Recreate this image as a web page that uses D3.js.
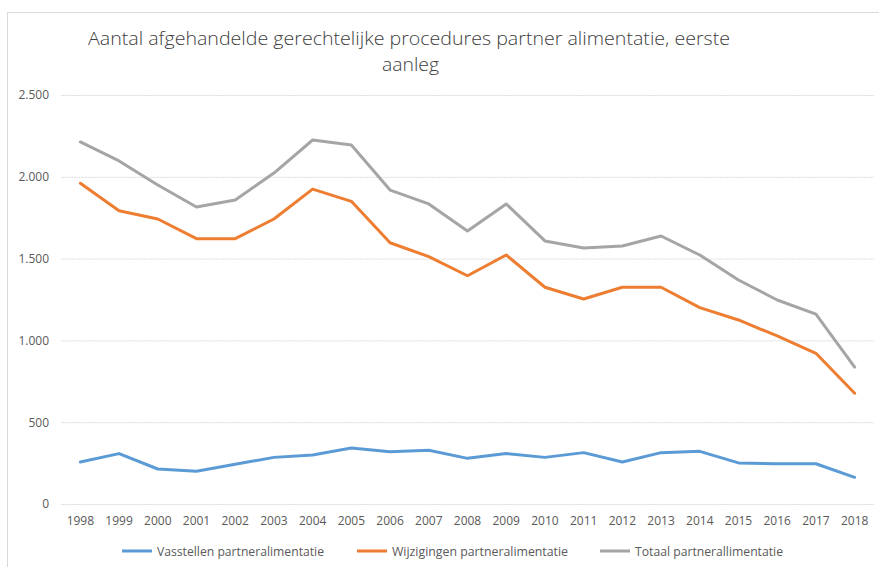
<!DOCTYPE html>
<html>
<head>
<meta charset="utf-8">
<script src="https://cdn.jsdelivr.net/npm/d3@7"></script>
<style>
  body { margin: 0; background: #fff; }
  text { font-family: "Open Sans", "DejaVu Sans", sans-serif; }
</style>
</head>
<body>
<div id="chart"></div>
<script>
// data
var years = ["1998","1999","2000","2001","2002","2003","2004","2005","2006","2007",
  "2008","2009","2010","2011","2012","2013","2014","2015","2016","2017","2018"];
var vasstellen = [257, 308, 214, 200, 243, 285, 300, 342, 320, 328,
  279, 308, 285, 314, 257, 314, 322, 251, 246, 246, 163];
var wijzigingen = [1960, 1793, 1742, 1622, 1622, 1742, 1925, 1850, 1597, 1512,
  1395, 1522, 1325, 1253, 1325, 1325, 1200, 1125, 1027, 921, 677];
var totaal = [2213, 2097, 1950, 1815, 1858, 2023, 2225, 2194, 1919, 1834,
  1669, 1834, 1608, 1565, 1577, 1638, 1522, 1369, 1247, 1161, 837];
var yTicks = [0, 500, 1000, 1500, 2000, 2500];
var seriesNames = ["Vasstellen partneralimentatie", "Wijzigingen partneralimentatie", "Totaal partnerallimentatie"];
var seriesColors = ["#5B9BD5", "#ED7D31", "#A5A5A5"];

var svgWidth = 879, svgHeight = 567;
var margin = { top: 95, right: 5, bottom: 63, left: 61 };
var width = 874 - margin.left;
var height = 504 - margin.top;

var svg = d3.select("#chart").append("svg")
  .attr("width", svgWidth)
  .attr("height", svgHeight);

// outer chart border (only top/left visible in the picture)
svg.append("rect")
  .attr("x", 7.5).attr("y", 12.5)
  .attr("width", 900).attr("height", 600)
  .attr("fill", "none")
  .attr("stroke", "#d9d9d9");

// title
var title = svg.append("g").attr("fill", "#404040").style("font-size", "19px")
  .style("font-weight", 300);
title.append("text")
  .attr("x", 88).attr("y", 45)
  .attr("textLength", 642).attr("lengthAdjust", "spacingAndGlyphs")
  .text("Aantal afgehandelde gerechtelijke procedures partner alimentatie, eerste");
title.append("text")
  .attr("x", 382).attr("y", 71)
  .attr("textLength", 57).attr("lengthAdjust", "spacingAndGlyphs")
  .text("aanleg");

var chartGroup = svg.append("g")
  .attr("transform", `translate(${margin.left}, ${margin.top})`);

var x = d3.scaleBand().domain(years).range([0, width]);
var y = d3.scaleLinear().domain([0, 2500]).range([height, 0]);

var fmt = d3.formatLocale({ decimal: ",", thousands: ".", grouping: [3], currency: ["€", ""] }).format(",");

// gridlines + y labels
var yAxis = d3.axisLeft(y).tickValues(yTicks).tickSize(-width).tickFormat(fmt).tickPadding(12);
chartGroup.append("g")
  .call(yAxis)
  .call(g => g.select(".domain").remove())
  .call(g => g.selectAll("line").attr("stroke", "#d9d9d9").attr("stroke-dasharray", "1.2,0.6"))
  .call(g => g.selectAll("text").attr("fill", "#595959").style("font-size", "12px")
    .style("font-family", "'Open Sans', sans-serif"));

// x labels
var xAxis = d3.axisBottom(x).tickSize(0).tickPadding(12);
chartGroup.append("g")
  .attr("transform", `translate(0, ${height})`)
  .call(xAxis)
  .call(g => g.select(".domain").remove())
  .call(g => g.selectAll("text").attr("fill", "#595959").style("font-size", "12px")
    .style("font-family", "'Open Sans', sans-serif"));

// lines
var line = d3.line()
  .x((d, i) => x(years[i]) + x.bandwidth() / 2)
  .y(d => y(d));

[vasstellen, wijzigingen, totaal].forEach(function(values, i) {
  chartGroup.append("path")
    .datum(values)
    .attr("fill", "none")
    .attr("stroke", seriesColors[i])
    .attr("stroke-width", 3)
    .attr("stroke-linejoin", "round")
    .attr("stroke-linecap", "round")
    .attr("d", line);
});

// legend
var legendX = [122, 357, 600];
var legendW = [167, 176, 148];
var legend = svg.append("g").attr("transform", "translate(0, 551)");
seriesNames.forEach(function(name, i) {
  legend.append("line")
    .attr("x1", legendX[i]).attr("x2", legendX[i] + 30)
    .attr("y1", 0).attr("y2", 0)
    .attr("stroke", seriesColors[i])
    .attr("stroke-width", 3);
  legend.append("text")
    .attr("x", legendX[i] + 35)
    .attr("y", 4.5)
    .attr("fill", "#595959")
    .style("font-size", "12px")
    .attr("textLength", legendW[i]).attr("lengthAdjust", "spacingAndGlyphs")
    .text(name);
});
</script>
</body>
</html>
